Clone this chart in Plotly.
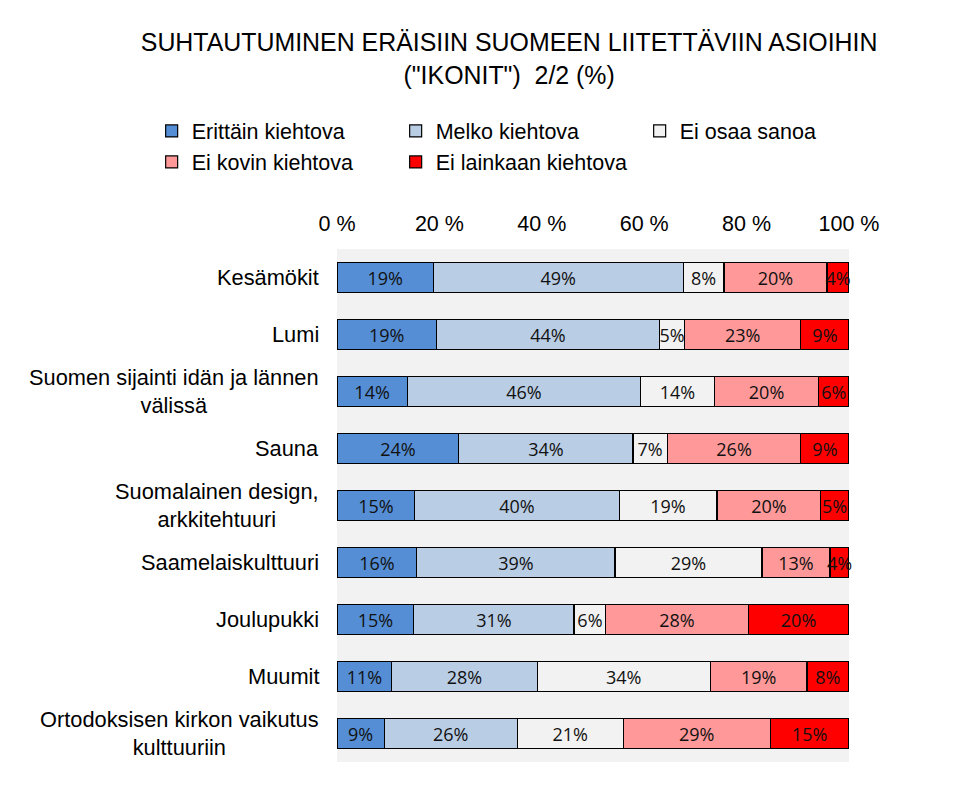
import plotly.graph_objects as go

# Kategoriat ja arvot (luettu kuvasta)
categories = [
    "Kesämökit",
    "Lumi",
    "Suomen sijainti idän ja lännen<br>välissä",
    "Sauna",
    "Suomalainen design,<br>arkkitehtuuri",
    "Saamelaiskulttuuri",
    "Joulupukki",
    "Muumit",
    "Ortodoksisen kirkon vaikutus<br>kulttuuriin",
]
erittain = [18.8, 19.4, 13.7, 23.8, 15.2, 15.6, 15.0, 10.7, 9.2]
melko = [48.8, 43.6, 45.6, 34.0, 39.9, 38.7, 31.3, 28.4, 26.0]
ei_osaa = [8.0, 4.9, 14.4, 6.7, 19.1, 28.7, 6.2, 33.8, 20.7]
ei_kovin = [20.1, 22.7, 20.4, 26.1, 20.3, 13.3, 27.8, 18.9, 28.7]
ei_lainkaan = [4.3, 9.4, 5.9, 9.4, 5.4, 3.7, 19.7, 8.1, 15.4]

series = [
    ("Erittäin kiehtova", erittain, "#558ed5"),
    ("Melko kiehtova", melko, "#b9cde5"),
    ("Ei osaa sanoa", ei_osaa, "#f2f2f2"),
    ("Ei kovin kiehtova", ei_kovin, "#ff9999"),
    ("Ei lainkaan kiehtova", ei_lainkaan, "#ff0000"),
]
x_ticks = [0, 20, 40, 60, 80, 100]
x_labels = ["0 %", "20 %", "40 %", "60 %", "80 %", "100 %"]

fig = go.Figure()
for name, values, color in series:
    fig.add_trace(go.Bar(
        y=categories,
        x=values,
        name=name,
        orientation="h",
        marker=dict(color=color, line=dict(color="black", width=1.2)),
        texttemplate="%{x:.0f}%",
        textposition="inside",
        insidetextanchor="middle",
        constraintext="none",
        textangle=0,
        cliponaxis=False,
        insidetextfont=dict(family="Open Sans", size=18, color="#111111"),
    ))

# Rivien nimet keskitettyinä kuten alkuperäisessä
for cat in categories:
    fig.add_annotation(
        x=0, xref="paper", y=cat, yref="y", text=cat, showarrow=False,
        xanchor="right", align="center", xshift=-16,
        font=dict(family="Liberation Sans", size=21.8, color="black"),
    )

fig.update_layout(
    width=942,
    height=773,
    barmode="stack",
    bargap=0.47,
    paper_bgcolor="white",
    plot_bgcolor="#f2f2f2",
    margin=dict(l=329, r=101, t=241, b=19, autoexpand=False),
    font=dict(family="Liberation Sans", size=18, color="black"),
    title=dict(
        text='SUHTAUTUMINEN ERÄISIIN SUOMEEN LIITETTÄVIIN ASIOIHIN<br>("IKONIT")  2/2 (%)',
        x=0.532, xanchor="center", y=0.944, yanchor="top",
        font=dict(family="Liberation Sans", size=24.9, color="black"),
    ),
    legend=dict(
        orientation="h", x=-0.362, xanchor="left", y=1.27, yanchor="top",
        entrywidth=199, entrywidthmode="pixels", traceorder="normal",
        font=dict(family="Liberation Sans", size=21.5), bgcolor="rgba(0,0,0,0)",
    ),
    xaxis=dict(
        side="top", range=[0, 100.001], tickvals=x_ticks, ticktext=x_labels,
        showgrid=False, zeroline=False, showline=False, ticks="", ticklen=0,
        ticklabelstandoff=13,
        tickfont=dict(family="Liberation Sans", size=21.5),
    ),
    yaxis=dict(
        autorange="reversed", showgrid=False, zeroline=False, showline=False,
        showticklabels=False, ticks="",
    ),
)

fig.write_html("out.html")
